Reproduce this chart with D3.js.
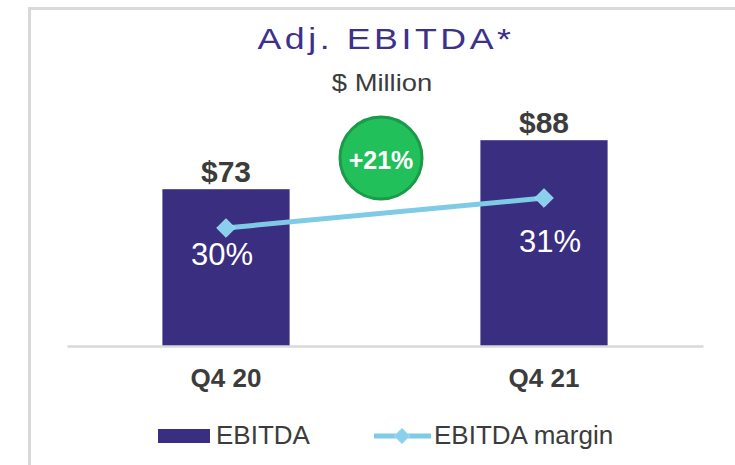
<!DOCTYPE html>
<html lang="en">
<head>
    <meta charset="UTF-8">
    <title>Adj. EBITDA</title>
    <style>
        body, html {
            margin: 0;
            padding: 0;
            background: #fff;
            font-family: "Liberation Sans", Arial, sans-serif;
        }
        #chart {
            width: 735px;
            height: 465px;
        }
    </style>
    <script src="https://d3js.org/d3.v7.min.js"></script>
</head>
<body>
    <div id="chart"></div>
    <script>
        const quarters = ["Q4 20", "Q4 21"];
        const ebitda = [73, 88];
        const margin = [30, 31];
        const growthLabel = "+21%";

        const width = 735, height = 465;
        const purple = "#3a2e80", lineBlue = "#7fcbe6", textGray = "#3c3c3c";

        const svg = d3.select("#chart").append("svg")
            .attr("width", width)
            .attr("height", height);

        // frame
        svg.append("line").attr("x1", 29.5).attr("x2", 29.5).attr("y1", 7).attr("y2", height)
            .attr("stroke", "#d9d9d9").attr("stroke-width", 3);
        svg.append("line").attr("x1", 28).attr("x2", width).attr("y1", 8.5).attr("y2", 8.5)
            .attr("stroke", "#d9d9d9").attr("stroke-width", 3);

        // titles (the original type is a bit wider than Liberation Sans)
        svg.append("text")
            .attr("transform", "translate(386,49) scale(1.19,1)")
            .attr("text-anchor", "middle")
            .style("font-size", "30px")
            .style("letter-spacing", "3px")
            .attr("fill", "#3d3189")
            .text("Adj. EBITDA*");
        svg.append("text")
            .attr("transform", "translate(382,91) scale(1.19,1)")
            .attr("text-anchor", "middle")
            .style("font-size", "23px")
            .attr("fill", textGray)
            .text("$ Million");

        const x = d3.scaleBand()
            .domain(quarters)
            .range([67, 703])
            .paddingInner(0.6)
            .paddingOuter(0.3);

        const y = d3.scaleLinear().domain([25, 100]).range([346, 101]);
        const y2 = d3.scaleLinear().domain([22, 34]).range([468, 108]);

        const data = quarters.map((q, i) => ({ q, v: ebitda[i], m: margin[i] }));

        // bars
        svg.selectAll("rect.bar")
            .data(data)
            .join("rect")
            .attr("class", "bar")
            .attr("x", d => x(d.q))
            .attr("y", d => y(d.v))
            .attr("width", x.bandwidth())
            .attr("height", d => y(25) - y(d.v))
            .attr("fill", purple);

        // axis line
        const xAxis = svg.append("g")
            .attr("transform", `translate(0,${y(25)})`)
            .call(d3.axisBottom(x).tickSize(0).tickPadding(0).tickFormat(""));
        xAxis.select(".domain").attr("stroke", "#d9d9d9").attr("stroke-width", 2.5);
        xAxis.selectAll(".tick").remove();

        // category labels
        svg.selectAll("text.cat")
            .data(data)
            .join("text")
            .attr("class", "cat")
            .attr("x", d => x(d.q) + x.bandwidth() / 2)
            .attr("y", 387)
            .attr("text-anchor", "middle")
            .style("font-size", "26px")
            .style("font-weight", "bold")
            .attr("fill", textGray)
            .text(d => d.q);

        // value labels
        svg.selectAll("text.val")
            .data(data)
            .join("text")
            .attr("class", "val")
            .attr("x", d => x(d.q) + x.bandwidth() / 2)
            .attr("y", d => y(d.v) - 7)
            .attr("text-anchor", "middle")
            .style("font-size", "30px")
            .style("font-weight", "bold")
            .attr("fill", textGray)
            .text(d => "$" + d.v);

        // margin line
        const cx = d => x(d.q) + x.bandwidth() / 2;
        svg.append("path")
            .datum(data)
            .attr("fill", "none")
            .attr("stroke", lineBlue)
            .attr("stroke-width", 5)
            .attr("d", d3.line().x(cx).y(d => y2(d.m)));

        const diamond = d3.symbol().type(d3.symbolDiamond2).size(220);
        svg.selectAll("path.marker")
            .data(data)
            .join("path")
            .attr("class", "marker")
            .attr("transform", d => `translate(${cx(d)},${y2(d.m)})`)
            .attr("d", diamond)
            .attr("fill", "#88d0ec")
            .attr("stroke", "#a9dcf0")
            .attr("stroke-width", 1);

        const labelDx = [-4, 6], labelDy = [37, 54];
        svg.selectAll("text.margin")
            .data(data)
            .join("text")
            .attr("class", "margin")
            .attr("x", (d, i) => cx(d) + labelDx[i])
            .attr("y", (d, i) => y2(d.m) + labelDy[i])
            .attr("text-anchor", "middle")
            .style("font-size", "31px")
            .attr("fill", "#fff")
            .text(d => d.m + "%");

        // growth bubble
        const bx = (cx(data[0]) + cx(data[1])) / 2 - 4;
        svg.append("circle")
            .attr("cx", bx).attr("cy", 158).attr("r", 41)
            .attr("fill", "#22c05a")
            .attr("stroke", "#1b9a4a")
            .attr("stroke-width", 3);
        svg.append("text")
            .attr("x", bx).attr("y", 169)
            .attr("text-anchor", "middle")
            .style("font-size", "25px")
            .style("font-weight", "bold")
            .attr("fill", "#fff")
            .text(growthLabel);

        // legend
        const legend = svg.append("g");
        legend.append("rect")
            .attr("x", 158).attr("y", 429).attr("width", 52).attr("height", 14)
            .attr("fill", purple);
        legend.append("text")
            .attr("x", 216).attr("y", 444)
            .style("font-size", "26px")
            .attr("fill", textGray)
            .text("EBITDA");
        legend.append("line")
            .attr("x1", 374).attr("x2", 431).attr("y1", 436).attr("y2", 436)
            .attr("stroke", lineBlue).attr("stroke-width", 5);
        legend.append("path")
            .attr("transform", "translate(402,436)")
            .attr("d", d3.symbol().type(d3.symbolDiamond2).size(150))
            .attr("fill", "#88d0ec")
            .attr("stroke", "#a9dcf0")
            .attr("stroke-width", 1);
        legend.append("text")
            .attr("x", 434).attr("y", 444)
            .style("font-size", "26px")
            .attr("fill", textGray)
            .text("EBITDA margin");
    </script>
</body>
</html>
